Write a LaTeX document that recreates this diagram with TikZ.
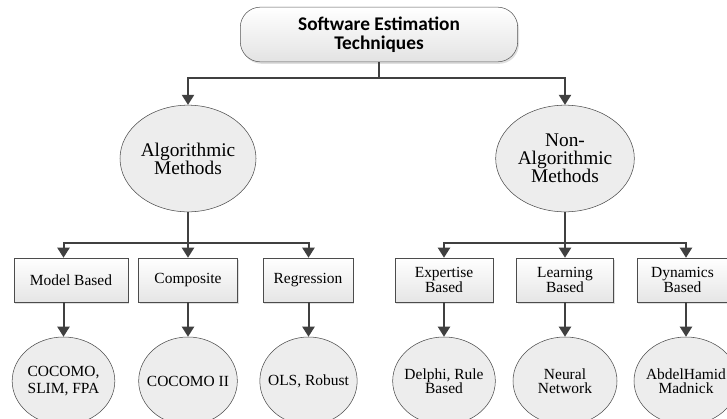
\documentclass[tikz,border=0pt]{standalone}
\usepackage{fontspec}
\setmainfont{Liberation Serif}
\newfontfamily\titlefont{Carlito}
\usetikzlibrary{arrows.meta, shapes.geometric, shadows}

\begin{document}
\begin{tikzpicture}
    [
        x=0.75pt, y=-0.75pt,
        title_node/.style={rectangle, draw=gray!70!black, rounded corners=15pt, top color=white, bottom color=gray!22, minimum width=208pt, minimum height=41pt, align=center, font=\titlefont\bfseries\fontsize{14.5}{14}\selectfont, drop shadow={opacity=0.25, shadow xshift=1pt, shadow yshift=-1.5pt}},
        method_node/.style={ellipse, draw=gray!60!black, fill=gray!14, inner sep=0pt, minimum width=102pt, minimum height=80pt, align=center, font=\fontsize{14.5}{13.6}\selectfont},
        class_node/.style={rectangle, draw=gray!60!black, top color=white, bottom color=gray!20, minimum height=33pt, align=center, font=\fontsize{11.6}{10.6}\selectfont, drop shadow={opacity=0.25, shadow xshift=1pt, shadow yshift=-1.5pt}},
        model_node/.style={ellipse, draw=gray!60!black, fill=gray!14, inner xsep=-10pt, inner ysep=0pt, minimum width=77pt, minimum height=66pt, align=center, font=\fontsize{11.6}{10.6}\selectfont},
        link/.style={line width=1.5pt, color=black!75},
        link_arrow/.style={link, -{Triangle[length=7.5pt, width=9pt]}},
    ]
        \clip (0,0) rectangle (727,418) ;
        % top
        \node[title_node] (title) at (379,34.5) {Software Estimation\\Techniques} ;
        \node[method_node] (alg) at (188,158.5) {Algorithmic\\Methods} ;
        \node[method_node, minimum width=104pt] (nonalg) at (565,158.5) {Non-\\Algorithmic\\Methods} ;
        % classes
        \node[class_node, minimum width=85.5pt] (mb) at (71,280) {Model Based} ;
        \node[class_node, minimum width=74pt] (comp) at (188,280) {Composite} ;
        \node[class_node, minimum width=67.5pt] (reg) at (308,280) {Regression} ;
        \node[class_node, minimum width=73.5pt] (exp) at (444,280) {Expertise\\Based} ;
        \node[class_node, minimum width=72.5pt] (learn) at (565,280) {Learning\\Based} ;
        \node[class_node, minimum width=68.5pt] (dyn) at (682.5,280) {Dynamics\\Based} ;
        % models
        \node[model_node] (e1) at (63.5,381) {COCOMO,\\[2pt]SLIM, FPA} ;
        \node[model_node, minimum width=74pt] (e2) at (188,381) {COCOMO II} ;
        \node[model_node, minimum width=73pt] (e3) at (308.5,381) {OLS, Robust} ;
        \node[model_node] (e4) at (444,381) {Delphi, Rule\\Based} ;
        \node[model_node, minimum width=78pt] (e5) at (565,381) {Neural\\Network} ;
        \node[model_node, minimum width=78pt] (e6) at (686,381) {AbdelHamid\\Madnick} ;
        % connectors
        \coordinate (bus0) at (379,78) ;
        \coordinate (bus1) at (188,243) ;
        \coordinate (bus2) at (565,243) ;
        \draw[link] (title) -- (bus0) ;
        \draw[link_arrow] (bus0) -| (alg) ;
        \draw[link_arrow] (bus0) -| (nonalg) ;
        \draw[link] (alg) -- (bus1) ;
        \draw[link_arrow] (bus1) -| (mb.north -| e1) ;
        \draw[link_arrow] (bus1) -- (comp) ;
        \draw[link_arrow] (bus1) -| (reg.north -| e3) ;
        \draw[link] (nonalg) -- (bus2) ;
        \draw[link_arrow] (bus2) -| (exp) ;
        \draw[link_arrow] (bus2) -- (learn) ;
        \draw[link_arrow] (bus2) -| (dyn.north -| e6) ;
        \draw[link_arrow] (mb.south -| e1) -- (e1) ;
        \draw[link_arrow] (comp) -- (e2) ;
        \draw[link_arrow] (reg.south -| e3) -- (e3) ;
        \draw[link_arrow] (exp) -- (e4) ;
        \draw[link_arrow] (learn) -- (e5) ;
        \draw[link_arrow] (dyn.south -| e6) -- (e6) ;
    \end{tikzpicture}
\end{document}
